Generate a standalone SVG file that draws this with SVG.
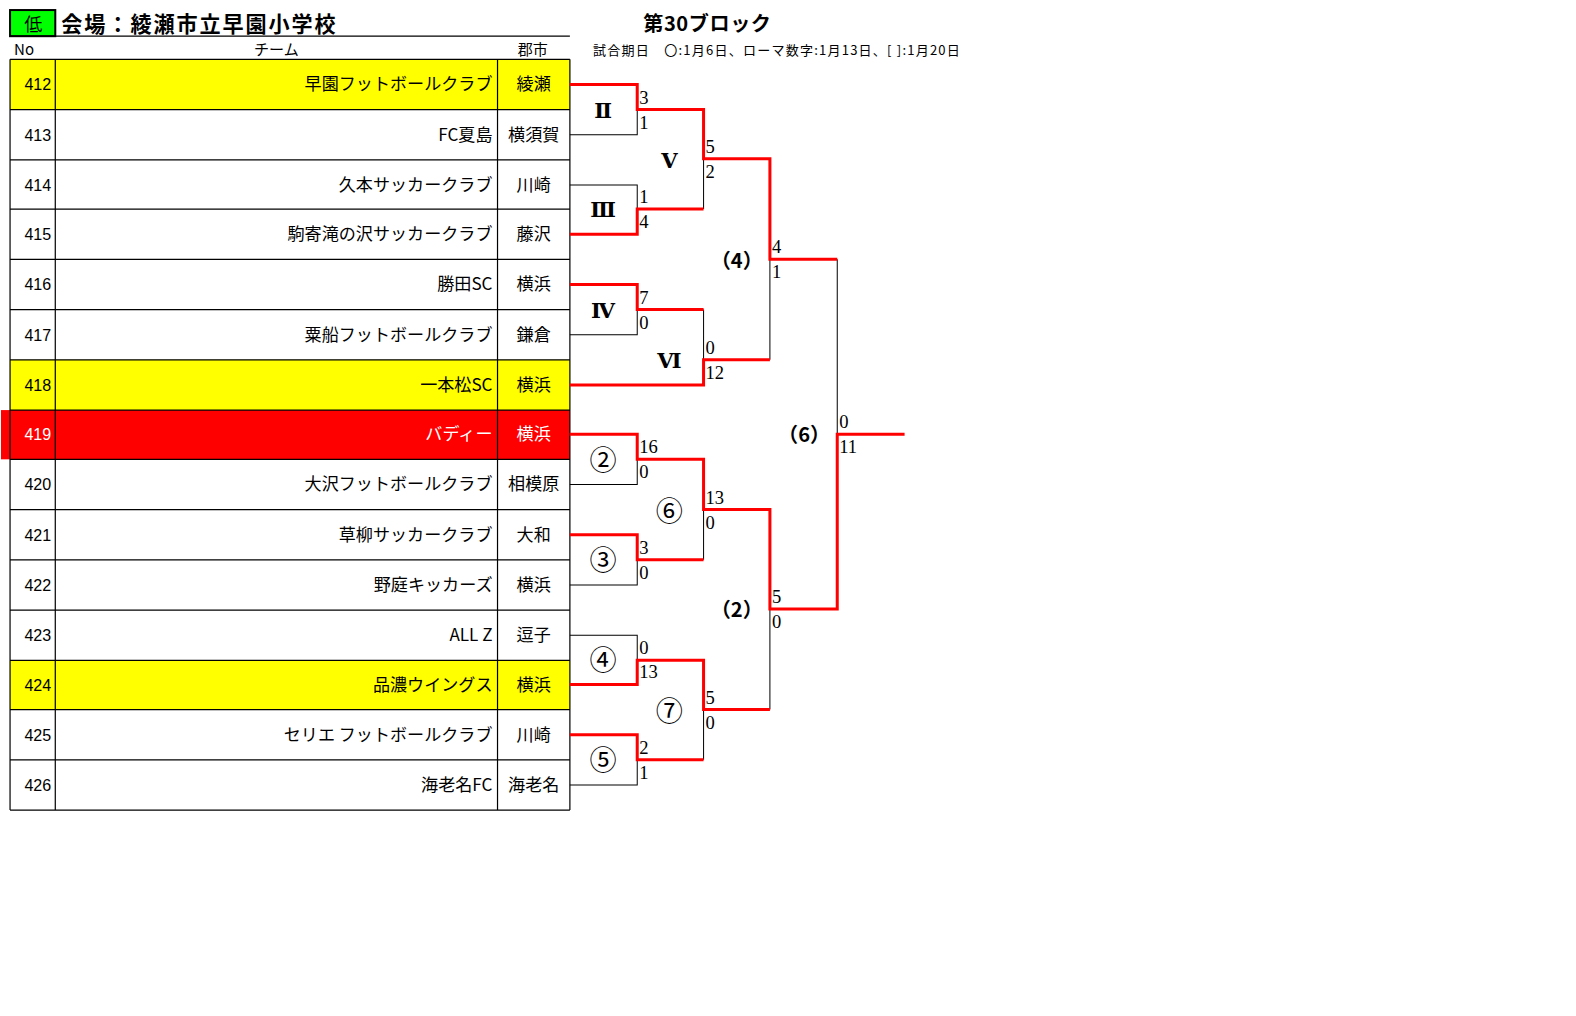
<svg xmlns="http://www.w3.org/2000/svg" width="1576" height="1016" viewBox="0 0 1576 1016">
<style>
.jp{font-family:"Noto Sans CJK JP","Liberation Sans",sans-serif}
.no{font-family:"Liberation Sans","Noto Sans CJK JP",sans-serif;font-size:16px;text-anchor:end}
.tm{font-family:"Noto Sans CJK JP","Liberation Sans",sans-serif;font-size:17px;text-anchor:end}
.ct{font-family:"Noto Sans CJK JP","Liberation Sans",sans-serif;font-size:17px;text-anchor:middle}
.w{fill:#ffffff}
.sc{font-family:"Liberation Serif","DejaVu Serif",serif;font-size:18.5px}
.rn{font-family:"DejaVu Serif","Liberation Serif","Noto Sans CJK JP",serif;font-size:21px;font-weight:bold;text-anchor:middle}
.ci{font-family:"Noto Sans CJK JP","DejaVu Sans",sans-serif;font-size:27px;text-anchor:middle}
.pr{font-family:"Noto Sans CJK JP","Liberation Serif",serif;font-size:20px;font-weight:bold;text-anchor:middle}
.bl{fill:none;stroke:#000;stroke-width:1}
.rd{fill:none;stroke:#ff0000;stroke-width:3}
.grid{stroke:#000;stroke-width:1.2}
</style>
<rect width="1576" height="1016" fill="#fff"/>
<g transform="scale(1.0051)">
<g id="header">
<rect x="10" y="10" width="45" height="26" fill="#00ff00" stroke="#000" stroke-width="2"/>
<text x="33" y="31" class="jp" font-size="18" text-anchor="middle">低</text>
<text x="61" y="32" class="jp" font-size="21" font-weight="bold" textLength="273" lengthAdjust="spacing">会場：綾瀬市立早園小学校</text>
<line x1="10" y1="36" x2="567" y2="36" stroke="#000" stroke-width="1.2"/>
<text x="14" y="55" class="jp" font-size="15">No</text>
<text x="275" y="55" class="jp" font-size="15" text-anchor="middle">チーム</text>
<text x="530" y="55" class="jp" font-size="15" text-anchor="middle">郡市</text>
<text x="640" y="31" class="jp" font-size="20" font-weight="bold" textLength="127" lengthAdjust="spacing">第30ブロック</text>
<text x="590" y="55" class="jp" font-size="13" textLength="365" lengthAdjust="spacing">試合期日　〇:1月6日、ローマ数字:1月13日、[ ]:1月20日</text>
</g>
<g id="table">
<rect x="10" y="59" width="557" height="50" fill="#ffff00"/>
<rect x="10" y="358" width="557" height="50" fill="#ffff00"/>
<rect x="1" y="408" width="566" height="49" fill="#ff0000"/>
<rect x="10" y="657" width="557" height="49" fill="#ffff00"/>
<g class="grid">
<line x1="10" y1="59" x2="567" y2="59"/>
<line x1="10" y1="109" x2="567" y2="109"/>
<line x1="10" y1="159" x2="567" y2="159"/>
<line x1="10" y1="208" x2="567" y2="208"/>
<line x1="10" y1="258" x2="567" y2="258"/>
<line x1="10" y1="308" x2="567" y2="308"/>
<line x1="10" y1="358" x2="567" y2="358"/>
<line x1="10" y1="408" x2="567" y2="408"/>
<line x1="10" y1="457" x2="567" y2="457"/>
<line x1="10" y1="507" x2="567" y2="507"/>
<line x1="10" y1="557" x2="567" y2="557"/>
<line x1="10" y1="607" x2="567" y2="607"/>
<line x1="10" y1="657" x2="567" y2="657"/>
<line x1="10" y1="706" x2="567" y2="706"/>
<line x1="10" y1="756" x2="567" y2="756"/>
<line x1="10" y1="806" x2="567" y2="806"/>
<line x1="10" y1="59" x2="10" y2="806"/>
<line x1="55" y1="59" x2="55" y2="806"/>
<line x1="495" y1="59" x2="495" y2="806"/>
<line x1="567" y1="59" x2="567" y2="806"/>
</g>
</g>
<g id="r412"><text class="no" x="51" y="90">412</text><text class="tm" x="490" y="90">早園フットボールクラブ</text><text class="ct" x="531" y="90">綾瀬</text></g>
<g id="r413"><text class="no" x="51" y="140">413</text><text class="tm" x="490" y="140">FC夏島</text><text class="ct" x="531" y="140">横須賀</text></g>
<g id="r414"><text class="no" x="51" y="190">414</text><text class="tm" x="490" y="190">久本サッカークラブ</text><text class="ct" x="531" y="190">川崎</text></g>
<g id="r415"><text class="no" x="51" y="239">415</text><text class="tm" x="490" y="239">駒寄滝の沢サッカークラブ</text><text class="ct" x="531" y="239">藤沢</text></g>
<g id="r416"><text class="no" x="51" y="289">416</text><text class="tm" x="490" y="289">勝田SC</text><text class="ct" x="531" y="289">横浜</text></g>
<g id="r417"><text class="no" x="51" y="339">417</text><text class="tm" x="490" y="339">粟船フットボールクラブ</text><text class="ct" x="531" y="339">鎌倉</text></g>
<g id="r418"><text class="no" x="51" y="389">418</text><text class="tm" x="490" y="389">一本松SC</text><text class="ct" x="531" y="389">横浜</text></g>
<g id="r419"><text class="no w" x="51" y="438">419</text><text class="tm w" x="490" y="438">バディー</text><text class="ct w" x="531" y="438">横浜</text></g>
<g id="r420"><text class="no" x="51" y="488">420</text><text class="tm" x="490" y="488">大沢フットボールクラブ</text><text class="ct" x="531" y="488">相模原</text></g>
<g id="r421"><text class="no" x="51" y="538">421</text><text class="tm" x="490" y="538">草柳サッカークラブ</text><text class="ct" x="531" y="538">大和</text></g>
<g id="r422"><text class="no" x="51" y="588">422</text><text class="tm" x="490" y="588">野庭キッカーズ</text><text class="ct" x="531" y="588">横浜</text></g>
<g id="r423"><text class="no" x="51" y="638">423</text><text class="tm" x="490" y="638">ALL Z</text><text class="ct" x="531" y="638">逗子</text></g>
<g id="r424"><text class="no" x="51" y="687">424</text><text class="tm" x="490" y="687">品濃ウイングス</text><text class="ct" x="531" y="687">横浜</text></g>
<g id="r425"><text class="no" x="51" y="737">425</text><text class="tm" x="490" y="737">セリエ フットボールクラブ</text><text class="ct" x="531" y="737">川崎</text></g>
<g id="r426"><text class="no" x="51" y="787">426</text><text class="tm" x="490" y="787">海老名FC</text><text class="ct" x="531" y="787">海老名</text></g>
<g id="connectors">
<path class="bl" d="M567,134H634V109M567,184H634V208M567,333H634V308M700,158V208M700,308V358M766,258V358M833,258V432M567,482H634V457M567,582H634V557M700,507V557M567,632H634V657M567,781H634V756M700,706V756M766,606V706"/>
<path class="rd" d="M567,84H634V109H700V158H766V258H833"/>
<path class="rd" d="M567,233H634V208H700"/>
<path class="rd" d="M567,283H634V308H700"/>
<path class="rd" d="M567,383H700V358H766"/>
<path class="rd" d="M567,432H634V457H700V507H766V606H833V432H900"/>
<path class="rd" d="M567,532H634V557H700"/>
<path class="rd" d="M567,681H634V657H700V706H766"/>
<path class="rd" d="M567,731H634V756H700"/>
</g>
<g id="scores" class="sc">
<text x="636" y="103">3</text><text x="636" y="128">1</text>
<text x="636" y="202">1</text><text x="636" y="227">4</text>
<text x="702" y="152">5</text><text x="702" y="177">2</text>
<text x="636" y="302">7</text><text x="636" y="327">0</text>
<text x="702" y="352">0</text><text x="702" y="377">12</text>
<text x="768" y="252">4</text><text x="768" y="277">1</text>
<text x="636" y="451">16</text><text x="636" y="476">0</text>
<text x="636" y="551">3</text><text x="636" y="576">0</text>
<text x="702" y="501">13</text><text x="702" y="526">0</text>
<text x="636" y="651">0</text><text x="636" y="675">13</text>
<text x="636" y="750">2</text><text x="636" y="775">1</text>
<text x="702" y="700">5</text><text x="702" y="725">0</text>
<text x="768" y="600">5</text><text x="768" y="625">0</text>
<text x="835" y="426">0</text><text x="835" y="451">11</text>
</g>
<g id="m-II"><text class="rn" x="600" y="117">Ⅱ</text></g>
<g id="m-III"><text class="rn" x="600" y="216">Ⅲ</text></g>
<g id="m-IV"><text class="rn" x="600" y="316">Ⅳ</text></g>
<g id="m-V"><text class="rn" x="666" y="167">Ⅴ</text></g>
<g id="m-VI"><text class="rn" x="666" y="366">Ⅵ</text></g>
<g id="m-4"><text class="pr" x="733" y="267">（4）</text></g>
<g id="m-c2"><text class="ci" x="600" y="468">②</text></g>
<g id="m-c3"><text class="ci" x="600" y="567">③</text></g>
<g id="m-c6"><text class="ci" x="666" y="518">⑥</text></g>
<g id="m-c4"><text class="ci" x="600" y="667">④</text></g>
<g id="m-c5"><text class="ci" x="600" y="766">⑤</text></g>
<g id="m-c7"><text class="ci" x="666" y="717">⑦</text></g>
<g id="m-2"><text class="pr" x="733" y="614">（2）</text></g>
<g id="m-6"><text class="pr" x="800" y="440">（6）</text></g>
</g>
</svg>
